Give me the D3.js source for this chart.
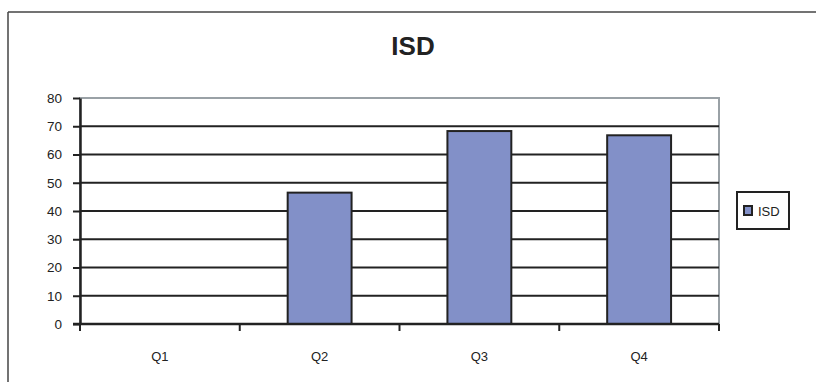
<!DOCTYPE html>
<html>
<head>
<meta charset="utf-8">
<script src="https://cdn.jsdelivr.net/npm/d3@7/dist/d3.min.js"></script>
<style>
  html, body { margin: 0; padding: 0; background: #fff; }
  svg { display: block; }
  text { font-family: "Liberation Sans", Arial, sans-serif; fill: #222; }
</style>
</head>
<body>
<svg id="chart" width="816" height="382"></svg>
<script>
// Quarterly ISD values
const categories = ["Q1", "Q2", "Q3", "Q4"];
const isdValues = [0, 46.5, 68.3, 66.8];
const yTicks = [0, 10, 20, 30, 40, 50, 60, 70, 80];
const seriesName = "ISD";
const chartTitle = "ISD";

const W = 816, H = 382;
const plot = { left: 80, right: 719, top: 98, bottom: 324 };

const svg = d3.select("#chart");

// outer frame (top and left edges)
svg.append("line").attr("x1", 8).attr("x2", W).attr("y1", 12).attr("y2", 12)
  .attr("stroke", "#444").attr("stroke-width", 1.5);
svg.append("line").attr("x1", 8).attr("x2", 8).attr("y1", 12).attr("y2", H)
  .attr("stroke", "#444").attr("stroke-width", 1.5);

// title
svg.append("text").attr("x", 413).attr("y", 54.5)
  .attr("text-anchor", "middle")
  .attr("font-size", 26).attr("font-weight", "bold")
  .text(chartTitle);

const x = d3.scaleBand().domain(categories).range([plot.left, plot.right]).padding(0);
const y = d3.scaleLinear().domain([0, 80]).range([plot.bottom, plot.top]);

// plot area border (grey)
svg.append("rect")
  .attr("x", plot.left).attr("y", plot.top)
  .attr("width", plot.right - plot.left).attr("height", plot.bottom - plot.top)
  .attr("fill", "none").attr("stroke", "#9aa1a6").attr("stroke-width", 2);

// horizontal gridlines
svg.append("g").selectAll("line")
  .data(yTicks.filter(d => d > 0 && d < 80))
  .join("line")
  .attr("x1", plot.left).attr("x2", plot.right)
  .attr("y1", d => y(d)).attr("y2", d => y(d))
  .attr("stroke", "#222").attr("stroke-width", 2);

// bars
const barFrac = 0.4;
svg.append("g").selectAll("rect")
  .data(categories.map((c, i) => ({ c, v: isdValues[i] })).filter(d => d.v > 0))
  .join("rect")
  .attr("x", d => x(d.c) + x.bandwidth() * (1 - barFrac) / 2)
  .attr("width", x.bandwidth() * barFrac)
  .attr("y", d => y(d.v))
  .attr("height", d => y(0) - y(d.v))
  .attr("fill", "#8290c8")
  .attr("stroke", "#222").attr("stroke-width", 2);

// y axis
const yAxis = svg.append("g")
  .attr("transform", `translate(${plot.left},0)`)
  .call(d3.axisLeft(y).tickValues(yTicks).tickSize(7).tickPadding(11).tickSizeOuter(0));
yAxis.select(".domain").attr("stroke", "#222").attr("stroke-width", 2.5);
yAxis.selectAll(".tick line").attr("stroke", "#222").attr("stroke-width", 2);
yAxis.selectAll(".tick text").attr("font-size", 13.5).attr("font-family", "Liberation Sans, Arial, sans-serif").attr("fill", "#222");

// x axis with ticks at category boundaries
const xAxisG = svg.append("g").attr("transform", `translate(0,${plot.bottom})`);
xAxisG.append("line").attr("x1", plot.left - 7).attr("x2", plot.right)
  .attr("stroke", "#222").attr("stroke-width", 2.5);
const boundaries = categories.map(c => x(c)).concat([x(categories[categories.length - 1]) + x.bandwidth()]);
xAxisG.selectAll("line.tk").data(boundaries).join("line").attr("class", "tk")
  .attr("x1", d => d).attr("x2", d => d).attr("y1", 0).attr("y2", 7)
  .attr("stroke", "#222").attr("stroke-width", 2);
xAxisG.selectAll("text").data(categories).join("text")
  .attr("x", d => x(d) + x.bandwidth() / 2).attr("y", 36.5)
  .attr("text-anchor", "middle").attr("font-size", 13)
  .text(d => d);

// legend
const lg = svg.append("g");
lg.append("rect").attr("x", 737).attr("y", 192).attr("width", 52).attr("height", 37)
  .attr("fill", "#fff").attr("stroke", "#222").attr("stroke-width", 2);
lg.append("rect").attr("x", 744).attr("y", 206).attr("width", 8).attr("height", 9)
  .attr("fill", "#8290c8").attr("stroke", "#222").attr("stroke-width", 2);
lg.append("text").attr("x", 758).attr("y", 216).attr("font-size", 13).text(seriesName);
</script>
</body>
</html>
